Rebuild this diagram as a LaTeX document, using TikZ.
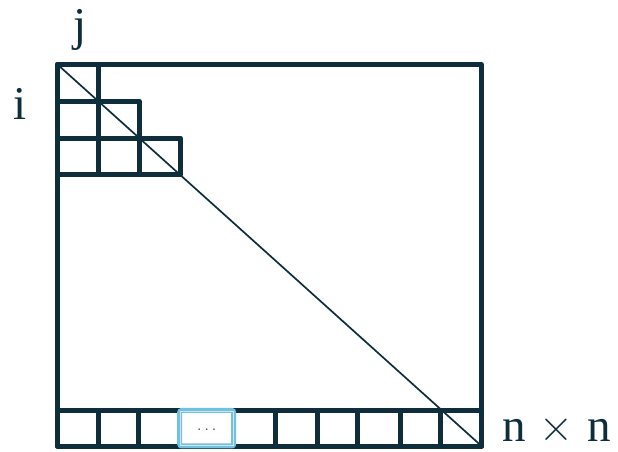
\documentclass[tikz,border=0pt]{standalone}
\usepackage{fontspec}
\setmainfont{Liberation Serif}
\setsansfont{Liberation Sans}
\newfontfamily\lmrfont{Latin Modern Roman}
\definecolor{navy}{HTML}{0F2E3C}
\definecolor{hlblue}{HTML}{6EC3E2}
\begin{document}
\begin{tikzpicture}[x=1pt,y=-1pt,
  cell/.style={draw=navy,line width=5pt,line join=round},
  diag/.style={draw=navy,line width=1.7pt},
  lab/.style={text=navy,anchor=base,inner sep=0pt,font=\fontsize{47}{47}\selectfont},
  hlbox/.style={draw=hlblue,line width=5pt,rounded corners=2pt,fill=white,minimum width=54pt,minimum height=35.5pt,inner sep=0pt,text=gray!60!black,font=\sffamily\fontsize{14}{14}\selectfont}]
\useasboundingbox (0,0) rectangle (618,451);
% outer matrix
\coordinate (tl) at (57.5,64.5);
\coordinate (br) at (481.5,446);
\draw[cell] (tl) rectangle (br);
% upper-left triangle of cells
\foreach \r in {1,2,3}{
  \foreach \c in {1,...,\r}{
    \pgfmathsetmacro{\xa}{57.5+(\c-1)*41}
    \pgfmathsetmacro{\ya}{64.5+(\r-1)*36.8}
    \draw[cell] (\xa,\ya) rectangle ++(41,36.8);
  }
}
% diagonal
\draw[diag] (tl) -- (br);
% bottom row
\foreach \a/\b in {57.5/98,98/138.5,138.5/179.7,233.7/275.5,275.5/317.5,317.5/357.5,357.5/400,400/440.5,440.5/481.5}{
  \draw[cell] (\a,410.5) rectangle (\b,446);
}
\node[hlbox] (dots) at (206.7,428.2) {\raisebox{-4pt}{.\hspace{3.5pt}.\hspace{3.5pt}.}};
\draw[gray!25,line width=0.6pt] ([shift={(3,3)}]dots.north west) rectangle ([shift={(-3,-3)}]dots.south east);
% labels
\node[lab] (j) at (80,40) {j};
\node[lab] (i) at (20,119) {i};
\node[lab,anchor=base west] (nn) at (502,441) {n\hspace{14pt}{\lmrfont ×}\hspace{14pt}n};
\end{tikzpicture}
\end{document}
